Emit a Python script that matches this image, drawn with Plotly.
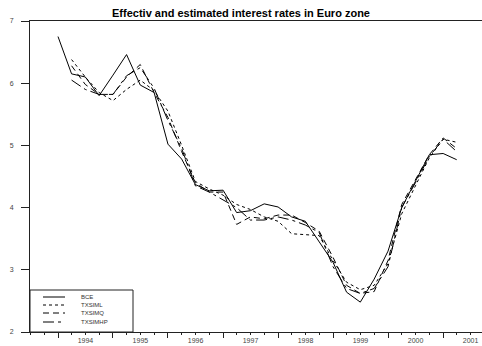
import plotly.graph_objects as go
import pandas as pd

# Quarterly dates, 1994Q1 .. 2001Q2
quarters = pd.date_range("1994-01-01", "2001-04-01", freq="QS").strftime("%Y-%m-%d").tolist()

# Effective ECB rate (from 1994Q1)
bce = [6.75, 6.15, 6.10, 5.80, 6.13, 6.46, 5.97, 5.85, 5.02, 4.78,
       4.37, 4.27, 4.28, 3.92, 3.95, 4.06, 4.01, 3.85, 3.78, 3.45,
       3.12, 2.64, 2.48, 2.85, 3.30, 4.00, 4.42, 4.85, 4.87, 4.77]

# Estimated rates (from 1994Q2)
txsiml = [6.38, 6.10, 5.85, 5.72, 5.90, 6.05, 5.88, 5.55, 5.00,
          4.42, 4.30, 4.20, 4.05, 3.97, 3.85, 3.78, 3.58, 3.57, 3.55,
          3.15, 2.80, 2.68, 2.75, 3.10, 3.90, 4.35, 4.80, 5.10, 5.05]
txsimq = [6.28, 5.98, 5.82, 5.82, 6.10, 6.30, 5.85, 5.45, 4.90,
          4.40, 4.25, 4.25, 3.73, 3.85, 3.82, 3.88, 3.88, 3.76, 3.62,
          3.20, 2.75, 2.62, 2.65, 3.15, 4.05, 4.45, 4.85, 5.12, 4.95]
txsimhp = [6.05, 5.90, 5.82, 5.82, 6.12, 6.25, 5.92, 5.40, 4.95,
           4.35, 4.25, 4.12, 4.00, 3.80, 3.80, 3.85, 3.80, 3.72, 3.60,
           3.05, 2.70, 2.62, 2.70, 3.05, 4.00, 4.40, 4.82, 5.10, 4.90]

series = [
    ("BCE", quarters, bce, "solid"),
    ("TXSIML", quarters[1:], txsiml, "3px,3px"),
    ("TXSIMQ", quarters[1:], txsimq, "6px,4px"),
    ("TXSIMHP", quarters[1:], txsimhp, "11px,4px,3px,4px"),
]

years = list(range(1994, 2002))
year_starts = [f"{y}-01-01" for y in years]
year_mids = [f"{y}-07-02" for y in years]
year_labels = [str(y) for y in years]
y_ticks = [2, 3, 4, 5, 6, 7]

W, H = 482, 346
ML, MR, MT, MB = 30, 0, 21, 14
PW, PH = W - ML - MR, H - MT - MB
X_RANGE = ["1993-06-29", "2001-09-16"]
FONT = "Liberation Sans, Arial"

fig = go.Figure()
for name, xs, ys, dash in series:
    fig.add_trace(go.Scatter(x=xs, y=ys, mode="lines", name=name,
                             line=dict(color="black", width=1, dash=dash),
                             showlegend=False))
# empty trace carrying the year-label axis
fig.add_trace(go.Scatter(x=[], y=[], xaxis="x2", showlegend=False, hoverinfo="skip"))

# Legend box drawn in pixel positions converted to paper units
def px(x):
    return (x - ML) / PW

def py(y):
    return (H - MB - y) / PH

fig.add_shape(type="rect", xref="paper", yref="paper",
              x0=px(30), x1=px(133), y0=py(332), y1=py(290),
              line=dict(color="#222", width=1), fillcolor="white", layer="above")
rows = [297, 305, 313, 322]
for (name, _, _, dash), ry in zip(series, rows):
    fig.add_shape(type="line", xref="paper", yref="paper",
                  x0=px(43), x1=px(65), y0=py(ry), y1=py(ry),
                  line=dict(color="black", width=1, dash=dash), layer="above")
    fig.add_annotation(xref="paper", yref="paper", x=px(79), y=py(ry),
                       text=name, showarrow=False, xanchor="left", yanchor="middle",
                       font=dict(family=FONT, size=6, color="#333"))

fig.update_layout(
    width=W, height=H,
    margin=dict(l=ML, r=MR, t=MT, b=MB),
    paper_bgcolor="white", plot_bgcolor="white",
    title=dict(text="<b>Effectiv and estimated interest rates in Euro zone</b>",
               x=0.5, xref="container", xanchor="center",
               y=1 - 13 / H, yref="container", yanchor="middle",
               font=dict(family=FONT, size=11, color="black")),
    xaxis=dict(type="date", range=X_RANGE,
               tickmode="array", tickvals=year_starts, showticklabels=False,
               ticks="outside", ticklen=5,
               tickcolor="#222", showline=True, linecolor="#222", linewidth=1,
               mirror=True, showgrid=False, zeroline=False,
               minor=dict(dtick="M3", tick0="1994-01-01", ticks="outside",
                          ticklen=2, tickcolor="#222", showgrid=False)),
    xaxis2=dict(type="date", range=X_RANGE, overlaying="x", anchor="y", side="bottom",
                tickmode="array", tickvals=year_mids, ticktext=year_labels,
                ticks="", showline=False, showgrid=False, zeroline=False,
                ticklabelstandoff=3,
                tickfont=dict(family=FONT, size=7, color="#444")),
    yaxis=dict(range=[2, 7], tickvals=y_ticks, ticks="outside", ticklen=8,
               tickcolor="#222", showline=True, linecolor="#222", linewidth=1,
               showgrid=False, zeroline=False, ticklabelstandoff=6,
               tickfont=dict(family=FONT, size=7, color="#444")),
)

fig.write_html("out.html")
